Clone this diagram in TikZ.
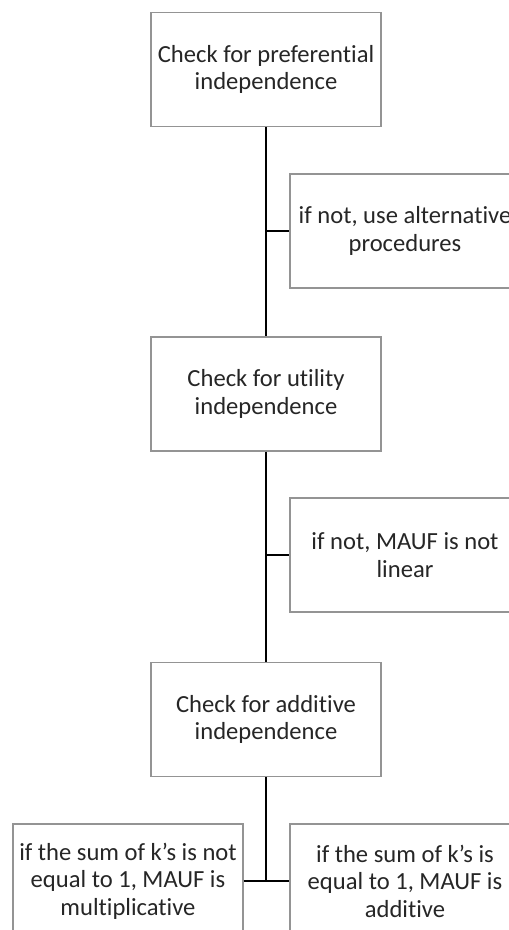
\documentclass[tikz,border=0pt]{standalone}
\usepackage{fontspec}
\setmainfont{Carlito}[Ligatures=NoCommon]
\begin{document}
\begin{tikzpicture}[x=1pt,y=-1pt,
  box/.style={draw=black!42,line width=1.4pt,fill=white,minimum width=230pt,minimum height=114pt,
    inner sep=0pt,align=center,font=\fontsize{24.6}{27.5}\selectfont,text=black!85},
  conn/.style={draw=black,line width=2.4pt}]
\useasboundingbox (0,0) rectangle (509,930);
\clip (0,0) rectangle (509,930);
\fill[white] (0,0) rectangle (509,930);
\node[box] (pref) at (266,69.5) {Check for preferential\\independence};
\node[box] (alt) at (405,231) {if not, use alternative\\procedures};
\node[box] (util) at (266,394) {Check for utility\\independence};
\node[box] (lin) at (405,555) {if not, MAUF is not\\linear};
\node[box] (add) at (266,719.5) {Check for additive\\independence};
\node[box] (mult) at (128,881) {if the sum of k's is not\\equal to 1, MAUF is\\multiplicative};
\node[box] (addv) at (405,881) {if the sum of k's is\\equal to 1, MAUF is\\additive};
\coordinate (j1) at (pref.south |- alt.west);
\coordinate (j2) at (util.south |- lin.west);
\coordinate (j3) at (add.south |- addv.west);
\draw[conn] (pref.south) -- (util.north);
\draw[conn] (j1) -- (alt.west);
\draw[conn] (util.south) -- (add.north);
\draw[conn] (j2) -- (lin.west);
\draw[conn] (add.south) -- (j3);
\draw[conn] (mult.east) -- (addv.west);
\end{tikzpicture}
\end{document}
